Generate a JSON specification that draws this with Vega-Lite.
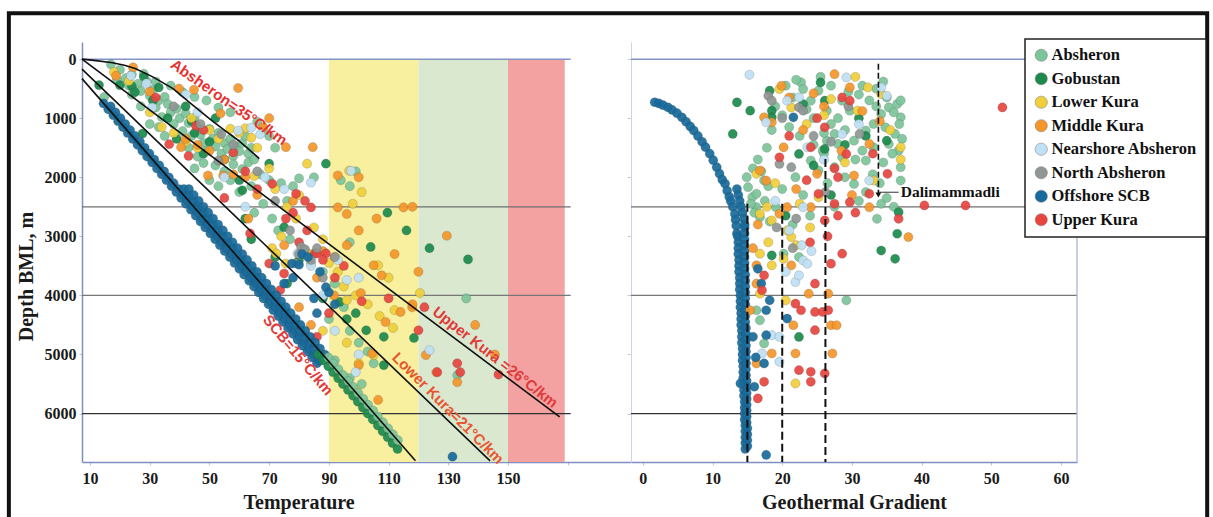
{
"$schema":"https://vega.github.io/schema/vega-lite/v6.json",
"padding":{"left":6,"top":11,"right":0,"bottom":0},
"background":"white",
"bounds":"flush",
"spacing":0,
"config":{
"view":{"stroke":null},
"axis":{"labelFont":"Liberation Serif","labelFontWeight":"bold","labelFontSize":16,"labelColor":"#1a1a1a","titleFont":"Liberation Serif","titleFontWeight":"bold","titleFontSize":20,"titleColor":"#1a1a1a","grid":false,"domainColor":"#7f8fc2","domainWidth":1.5,"tickColor":"#b9c2d8","tickSize":3,"labelPadding":4},
"legend":{"orient":"none","legendX":943,"legendY":-3,"padding":8,"strokeColor":"#222","strokeWidth":1.5,"fillColor":"white","labelFont":"Liberation Serif","labelFontWeight":"bold","labelFontSize":16.5,"labelColor":"#111","labelLimit":260,"symbolType":"circle","symbolSize":150,"symbolStrokeColor":"#777","symbolStrokeWidth":0.5,"symbolOpacity":1,"rowPadding":6.5,"labelOffset":2}
},
"datasets":{
"one":[{}],
"lines":[
{"line":"Absheron","t":7.3,"d":0},{"line":"Absheron","t":12,"d":25},{"line":"Absheron","t":17.5,"d":60},{"line":"Absheron","t":21.5,"d":105},{"line":"Absheron","t":25.1,"d":160},{"line":"Absheron","t":31,"d":300},{"line":"Absheron","t":37.8,"d":498},{"line":"Absheron","t":44,"d":760},{"line":"Absheron","t":50.7,"d":1035},{"line":"Absheron","t":55,"d":1200},{"line":"Absheron","t":59.6,"d":1373},{"line":"Absheron","t":63,"d":1520},{"line":"Absheron","t":66.7,"d":1683},
{"line":"Upper Kura","t":7.3,"d":0},{"line":"Upper Kura","t":167.3,"d":6055},
{"line":"Lower Kura","t":7.3,"d":170},{"line":"Lower Kura","t":144,"d":6800},
{"line":"SCB","t":7.3,"d":330},{"line":"SCB","t":119,"d":6800}
],
"left":[
{"r":"Absheron","t":17,"d":90},{"r":"Absheron","t":20,"d":180},{"r":"Absheron","t":22,"d":320},{"r":"Absheron","t":24,"d":260},{"r":"Absheron","t":26,"d":420},{"r":"Absheron","t":27,"d":540},{"r":"Absheron","t":29,"d":380},{"r":"Absheron","t":30,"d":620},{"r":"Absheron","t":31,"d":520},{"r":"Absheron","t":33,"d":700},{"r":"Absheron","t":32,"d":820},{"r":"Absheron","t":35,"d":640},{"r":"Absheron","t":36,"d":760},{"r":"Absheron","t":37,"d":900},{"r":"Absheron","t":34,"d":980},{"r":"Absheron","t":39,"d":840},{"r":"Absheron","t":40,"d":1000},{"r":"Absheron","t":38,"d":1100},{"r":"Absheron","t":42,"d":920},{"r":"Absheron","t":43,"d":1080},{"r":"Absheron","t":41,"d":1220},{"r":"Absheron","t":45,"d":1000},{"r":"Absheron","t":46,"d":1150},{"r":"Absheron","t":44,"d":1300},{"r":"Absheron","t":47,"d":1280},{"r":"Absheron","t":48,"d":1420},{"r":"Absheron","t":50,"d":1180},{"r":"Absheron","t":49,"d":1550},{"r":"Absheron","t":51,"d":1350},{"r":"Absheron","t":52,"d":1480},{"r":"Absheron","t":53,"d":1250},{"r":"Absheron","t":54,"d":1600},{"r":"Absheron","t":55,"d":1420},{"r":"Absheron","t":56,"d":1520},{"r":"Absheron","t":57,"d":1350},{"r":"Absheron","t":58,"d":1640},{"r":"Absheron","t":59,"d":1480},{"r":"Absheron","t":60,"d":1560},{"r":"Absheron","t":61,"d":1420},{"r":"Absheron","t":62,"d":1300},{"r":"Absheron","t":63,"d":1600},{"r":"Absheron","t":64,"d":1500},{"r":"Absheron","t":58,"d":1780},{"r":"Absheron","t":61,"d":1860},{"r":"Absheron","t":63,"d":1750},{"r":"Absheron","t":65,"d":1700},{"r":"Absheron","t":55,"d":1900},{"r":"Absheron","t":52,"d":1800},{"r":"Absheron","t":48,"d":1760},{"r":"Absheron","t":46,"d":1650},{"r":"Absheron","t":43,"d":1500},{"r":"Absheron","t":45,"d":1850},{"r":"Absheron","t":50,"d":2050},{"r":"Absheron","t":53,"d":2150},{"r":"Absheron","t":57,"d":2050},{"r":"Absheron","t":60,"d":2250},{"r":"Absheron","t":64,"d":2150},{"r":"Absheron","t":67,"d":1950},{"r":"Absheron","t":70,"d":2050},{"r":"Absheron","t":74,"d":2100},{"r":"Absheron","t":78,"d":2150},{"r":"Absheron","t":80,"d":2020},{"r":"Absheron","t":76,"d":2400},{"r":"Absheron","t":68,"d":2450},{"r":"Absheron","t":71,"d":2700},{"r":"Absheron","t":65,"d":2600},{"r":"Absheron","t":73,"d":2900},{"r":"Absheron","t":77,"d":3050},{"r":"Absheron","t":82,"d":3250},{"r":"Absheron","t":84,"d":3450},{"r":"Absheron","t":88,"d":3600},{"r":"Absheron","t":92,"d":3800},{"r":"Absheron","t":95,"d":4200},{"r":"Absheron","t":90,"d":4400},{"r":"Absheron","t":97,"d":4600},{"r":"Absheron","t":100,"d":4800},{"r":"Absheron","t":103,"d":4950},{"r":"Absheron","t":105,"d":5150},{"r":"Absheron","t":92,"d":5100},{"r":"Absheron","t":97,"d":5400},{"r":"Absheron","t":101,"d":5500},{"r":"Absheron","t":85,"d":2000},{"r":"Absheron","t":94,"d":2050},{"r":"Absheron","t":97,"d":2150},{"r":"Absheron","t":99,"d":1900},{"r":"Absheron","t":136,"d":4050},{"r":"Absheron","t":133,"d":5350},{"r":"Absheron","t":97,"d":3100},{"r":"Absheron","t":35,"d":1300},{"r":"Absheron","t":30,"d":1100},{"r":"Absheron","t":27,"d":800},{"r":"Absheron","t":24,"d":600},{"r":"Absheron","t":33,"d":1150},{"r":"Absheron","t":70,"d":1300},{"r":"Absheron","t":68,"d":1180},{"r":"Absheron","t":66,"d":1060},{"r":"Absheron","t":72,"d":1500},{"r":"Absheron","t":57,"d":900},{"r":"Absheron","t":53,"d":820},{"r":"Absheron","t":49,"d":700},{"r":"Absheron","t":45,"d":640},{"r":"Absheron","t":41,"d":560},{"r":"Absheron","t":37,"d":450},{"r":"Absheron","t":14.7,"d":644},{"r":"Absheron","t":19,"d":350},{"r":"Absheron","t":23,"d":450},{"r":"Absheron","t":28,"d":250},{"r":"Absheron","t":32,"d":380},
{"r":"Gobustan","t":13,"d":440},{"r":"Gobustan","t":20,"d":440},{"r":"Gobustan","t":24,"d":460},{"r":"Gobustan","t":25,"d":560},{"r":"Gobustan","t":28,"d":300},{"r":"Gobustan","t":27.6,"d":1260},{"r":"Gobustan","t":31,"d":700},{"r":"Gobustan","t":33,"d":480},{"r":"Gobustan","t":36,"d":1000},{"r":"Gobustan","t":39,"d":1350},{"r":"Gobustan","t":42,"d":800},{"r":"Gobustan","t":44,"d":1050},{"r":"Gobustan","t":48,"d":1600},{"r":"Gobustan","t":52,"d":1000},{"r":"Gobustan","t":55,"d":1700},{"r":"Gobustan","t":61,"d":2220},{"r":"Gobustan","t":60,"d":2050},{"r":"Gobustan","t":62,"d":2700},{"r":"Gobustan","t":64,"d":3050},{"r":"Gobustan","t":70,"d":1770},{"r":"Gobustan","t":72,"d":3350},{"r":"Gobustan","t":75,"d":2845},{"r":"Gobustan","t":80,"d":3400},{"r":"Gobustan","t":89,"d":1770},{"r":"Gobustan","t":93.6,"d":4110},{"r":"Gobustan","t":102.5,"d":4590},{"r":"Gobustan","t":108.4,"d":4700},{"r":"Gobustan","t":118.5,"d":4720},{"r":"Gobustan","t":108.4,"d":5180},{"r":"Gobustan","t":109.6,"d":2600},{"r":"Gobustan","t":116,"d":2900},{"r":"Gobustan","t":104,"d":3180},{"r":"Gobustan","t":123.7,"d":3200},{"r":"Gobustan","t":136.6,"d":3390},{"r":"Gobustan","t":76,"d":3800},{"r":"Gobustan","t":88,"d":4050},{"r":"Gobustan","t":96,"d":4400},{"r":"Gobustan","t":99,"d":4300},{"r":"Gobustan","t":45,"d":1250},{"r":"Gobustan","t":50,"d":1400},
{"r":"Lower Kura","t":18,"d":220},{"r":"Lower Kura","t":23,"d":370},{"r":"Lower Kura","t":30,"d":900},{"r":"Lower Kura","t":34,"d":1150},{"r":"Lower Kura","t":38,"d":1250},{"r":"Lower Kura","t":42,"d":1400},{"r":"Lower Kura","t":46,"d":1500},{"r":"Lower Kura","t":50,"d":1200},{"r":"Lower Kura","t":57,"d":1180},{"r":"Lower Kura","t":62,"d":1170},{"r":"Lower Kura","t":60,"d":1250},{"r":"Lower Kura","t":64,"d":1330},{"r":"Lower Kura","t":66,"d":1500},{"r":"Lower Kura","t":70,"d":1850},{"r":"Lower Kura","t":65,"d":1980},{"r":"Lower Kura","t":72,"d":2200},{"r":"Lower Kura","t":76,"d":2500},{"r":"Lower Kura","t":79,"d":2700},{"r":"Lower Kura","t":82.7,"d":1770},{"r":"Lower Kura","t":96.8,"d":1890},{"r":"Lower Kura","t":101,"d":2250},{"r":"Lower Kura","t":98,"d":2450},{"r":"Lower Kura","t":85,"d":2850},{"r":"Lower Kura","t":88,"d":3050},{"r":"Lower Kura","t":84,"d":3300},{"r":"Lower Kura","t":90,"d":3450},{"r":"Lower Kura","t":93,"d":3600},{"r":"Lower Kura","t":95,"d":3850},{"r":"Lower Kura","t":99,"d":4000},{"r":"Lower Kura","t":103,"d":4150},{"r":"Lower Kura","t":106.5,"d":3490},{"r":"Lower Kura","t":110,"d":3700},{"r":"Lower Kura","t":107,"d":4350},{"r":"Lower Kura","t":111.5,"d":4550},{"r":"Lower Kura","t":112,"d":4250},{"r":"Lower Kura","t":120.5,"d":3960},{"r":"Lower Kura","t":96,"d":4080},{"r":"Lower Kura","t":96,"d":4800},{"r":"Lower Kura","t":105,"d":5010},{"r":"Lower Kura","t":100,"d":5150},{"r":"Lower Kura","t":94,"d":5350},{"r":"Lower Kura","t":99,"d":5600},{"r":"Lower Kura","t":88,"d":4600},{"r":"Lower Kura","t":74,"d":3000},{"r":"Lower Kura","t":71,"d":3200},{"r":"Lower Kura","t":72.4,"d":3290},{"r":"Lower Kura","t":75.5,"d":3460},{"r":"Lower Kura","t":44,"d":1000},{"r":"Lower Kura","t":53,"d":1350},{"r":"Lower Kura","t":80,"d":2300},
{"r":"Middle Kura","t":18.7,"d":280},{"r":"Middle Kura","t":24.4,"d":140},{"r":"Middle Kura","t":30,"d":550},{"r":"Middle Kura","t":39.8,"d":500},{"r":"Middle Kura","t":44.8,"d":520},{"r":"Middle Kura","t":59.6,"d":490},{"r":"Middle Kura","t":53.7,"d":920},{"r":"Middle Kura","t":70,"d":1000},{"r":"Middle Kura","t":68,"d":1150},{"r":"Middle Kura","t":42,"d":1350},{"r":"Middle Kura","t":40.5,"d":1490},{"r":"Middle Kura","t":46,"d":1450},{"r":"Middle Kura","t":50,"d":1550},{"r":"Middle Kura","t":49.5,"d":1970},{"r":"Middle Kura","t":54.6,"d":1970},{"r":"Middle Kura","t":55,"d":1700},{"r":"Middle Kura","t":58,"d":1950},{"r":"Middle Kura","t":62,"d":2000},{"r":"Middle Kura","t":75.6,"d":1490},{"r":"Middle Kura","t":84.6,"d":1490},{"r":"Middle Kura","t":93,"d":1970},{"r":"Middle Kura","t":100,"d":2000},{"r":"Middle Kura","t":93,"d":2510},{"r":"Middle Kura","t":96,"d":2620},{"r":"Middle Kura","t":115,"d":2510},{"r":"Middle Kura","t":118,"d":2500},{"r":"Middle Kura","t":129.5,"d":2990},{"r":"Middle Kura","t":106,"d":2700},{"r":"Middle Kura","t":100,"d":2900},{"r":"Middle Kura","t":91.7,"d":4000},{"r":"Middle Kura","t":105,"d":3490},{"r":"Middle Kura","t":107.7,"d":3660},{"r":"Middle Kura","t":117.9,"d":4200},{"r":"Middle Kura","t":114,"d":4280},{"r":"Middle Kura","t":109,"d":4450},{"r":"Middle Kura","t":100.7,"d":3960},{"r":"Middle Kura","t":122.5,"d":5010},{"r":"Middle Kura","t":106.5,"d":5770},{"r":"Middle Kura","t":126,"d":5300},{"r":"Middle Kura","t":133,"d":5470},{"r":"Middle Kura","t":145.6,"d":5000},{"r":"Middle Kura","t":139,"d":4500},{"r":"Middle Kura","t":100,"d":5180},{"r":"Middle Kura","t":104.5,"d":4980},{"r":"Middle Kura","t":88,"d":3250},{"r":"Middle Kura","t":92,"d":3350},{"r":"Middle Kura","t":96,"d":3150},{"r":"Middle Kura","t":86,"d":3700},{"r":"Middle Kura","t":78,"d":2400},{"r":"Middle Kura","t":75,"d":3150},{"r":"Middle Kura","t":66,"d":2300},{"r":"Middle Kura","t":63,"d":2700},{"r":"Middle Kura","t":80,"d":4200},{"r":"Middle Kura","t":84,"d":4500},{"r":"Middle Kura","t":118,"d":4150},{"r":"Middle Kura","t":120,"d":3600},{"r":"Middle Kura","t":112,"d":3300},
{"r":"Upper Kura","t":32,"d":650},{"r":"Upper Kura","t":45.5,"d":1130},{"r":"Upper Kura","t":43,"d":1640},{"r":"Upper Kura","t":36.5,"d":1440},{"r":"Upper Kura","t":58,"d":1580},{"r":"Upper Kura","t":48,"d":1200},{"r":"Upper Kura","t":62,"d":1900},{"r":"Upper Kura","t":66,"d":2200},{"r":"Upper Kura","t":55,"d":2350},{"r":"Upper Kura","t":71,"d":2110},{"r":"Upper Kura","t":79,"d":2280},{"r":"Upper Kura","t":84,"d":2510},{"r":"Upper Kura","t":75.6,"d":2700},{"r":"Upper Kura","t":82.7,"d":2900},{"r":"Upper Kura","t":85.3,"d":3290},{"r":"Upper Kura","t":63.6,"d":2950},{"r":"Upper Kura","t":73.7,"d":3910},{"r":"Upper Kura","t":75,"d":3630},{"r":"Upper Kura","t":70,"d":3460},{"r":"Upper Kura","t":86,"d":3290},{"r":"Upper Kura","t":89,"d":3290},{"r":"Upper Kura","t":92,"d":3700},{"r":"Upper Kura","t":88,"d":3400},{"r":"Upper Kura","t":80,"d":3100},{"r":"Upper Kura","t":95,"d":3500},{"r":"Upper Kura","t":78,"d":2600},{"r":"Upper Kura","t":82,"d":2400},{"r":"Upper Kura","t":101,"d":4100},{"r":"Upper Kura","t":90,"d":4300},{"r":"Upper Kura","t":86,"d":4700},{"r":"Upper Kura","t":110,"d":4050},{"r":"Upper Kura","t":120,"d":4590},{"r":"Upper Kura","t":122,"d":4200},{"r":"Upper Kura","t":126.3,"d":5300},{"r":"Upper Kura","t":134,"d":5300},{"r":"Upper Kura","t":133,"d":5150},{"r":"Upper Kura","t":146.8,"d":5340},
{"r":"Nearshore Absheron","t":23.7,"d":283},{"r":"Nearshore Absheron","t":28.9,"d":410},{"r":"Nearshore Absheron","t":30.8,"d":820},{"r":"Nearshore Absheron","t":42,"d":600},{"r":"Nearshore Absheron","t":46,"d":900},{"r":"Nearshore Absheron","t":59.6,"d":1210},{"r":"Nearshore Absheron","t":64,"d":1160},{"r":"Nearshore Absheron","t":67,"d":1270},{"r":"Nearshore Absheron","t":55,"d":2000},{"r":"Nearshore Absheron","t":68.6,"d":2000},{"r":"Nearshore Absheron","t":84,"d":2090},{"r":"Nearshore Absheron","t":97.4,"d":1890},{"r":"Nearshore Absheron","t":75,"d":2200},{"r":"Nearshore Absheron","t":62,"d":2500},{"r":"Nearshore Absheron","t":79.5,"d":3290},{"r":"Nearshore Absheron","t":84,"d":3500},{"r":"Nearshore Absheron","t":93,"d":3400},{"r":"Nearshore Absheron","t":100,"d":3700},{"r":"Nearshore Absheron","t":96,"d":3740},{"r":"Nearshore Absheron","t":88,"d":4000},{"r":"Nearshore Absheron","t":92,"d":4600},{"r":"Nearshore Absheron","t":100,"d":5000},{"r":"Nearshore Absheron","t":99,"d":5300},{"r":"Nearshore Absheron","t":123.7,"d":4930},
{"r":"North Absheron","t":38,"d":800},{"r":"North Absheron","t":47,"d":1100},{"r":"North Absheron","t":54,"d":1270},{"r":"North Absheron","t":58,"d":1450},{"r":"North Absheron","t":53,"d":1720},{"r":"North Absheron","t":66,"d":1900},{"r":"North Absheron","t":72,"d":2400},{"r":"North Absheron","t":77,"d":2900},{"r":"North Absheron","t":80.7,"d":3180},{"r":"North Absheron","t":82,"d":3220},{"r":"North Absheron","t":86,"d":3200},{"r":"North Absheron","t":80,"d":3300},{"r":"North Absheron","t":79,"d":3460},{"r":"North Absheron","t":84,"d":3400},{"r":"North Absheron","t":88,"d":3700},{"r":"North Absheron","t":92,"d":3350},
{"r":"Offshore SCB","t":77.6,"d":3460},{"r":"Offshore SCB","t":80,"d":3480},{"r":"Offshore SCB","t":81,"d":3300},{"r":"Offshore SCB","t":83,"d":3350},{"r":"Offshore SCB","t":89,"d":3860},{"r":"Offshore SCB","t":90,"d":3950},{"r":"Offshore SCB","t":78,"d":3700},{"r":"Offshore SCB","t":75,"d":3800},{"r":"Offshore SCB","t":85,"d":4050},{"r":"Offshore SCB","t":87,"d":3600},{"r":"Offshore SCB","t":72,"d":3500},{"r":"Offshore SCB","t":131.4,"d":6730},{"r":"Offshore SCB","t":86,"d":4300},{"r":"Offshore SCB","t":92,"d":4150},
{"r":"Offshore SCB","t":14.5,"d":750},{"r":"Offshore SCB","t":16.1,"d":850},{"r":"Offshore SCB","t":17.8,"d":950},{"r":"Offshore SCB","t":19.4,"d":1050},{"r":"Offshore SCB","t":21.0,"d":1150},{"r":"Offshore SCB","t":22.6,"d":1250},{"r":"Offshore SCB","t":24.3,"d":1350},{"r":"Offshore SCB","t":25.9,"d":1450},{"r":"Offshore SCB","t":27.5,"d":1550},{"r":"Offshore SCB","t":29.1,"d":1650},{"r":"Offshore SCB","t":30.8,"d":1750},{"r":"Offshore SCB","t":32.4,"d":1850},{"r":"Offshore SCB","t":34.0,"d":1950},{"r":"Offshore SCB","t":35.6,"d":2050},{"r":"Offshore SCB","t":37.3,"d":2150},{"r":"Offshore SCB","t":38.9,"d":2250},{"r":"Offshore SCB","t":40.5,"d":2350},{"r":"Offshore SCB","t":42.1,"d":2450},{"r":"Offshore SCB","t":43.8,"d":2550},{"r":"Offshore SCB","t":45.4,"d":2650},{"r":"Offshore SCB","t":47.0,"d":2750},{"r":"Offshore SCB","t":48.6,"d":2850},{"r":"Offshore SCB","t":50.3,"d":2950},{"r":"Offshore SCB","t":51.9,"d":3050},{"r":"Offshore SCB","t":53.5,"d":3150},{"r":"Offshore SCB","t":55.1,"d":3250},{"r":"Offshore SCB","t":56.8,"d":3350},{"r":"Offshore SCB","t":58.4,"d":3450},{"r":"Offshore SCB","t":60.0,"d":3550},{"r":"Offshore SCB","t":61.6,"d":3650},{"r":"Offshore SCB","t":63.3,"d":3750},{"r":"Offshore SCB","t":64.9,"d":3850},{"r":"Offshore SCB","t":66.5,"d":3950},{"r":"Offshore SCB","t":68.1,"d":4050},{"r":"Offshore SCB","t":69.8,"d":4150},{"r":"Offshore SCB","t":71.4,"d":4250},{"r":"Offshore SCB","t":73.0,"d":4350},{"r":"Offshore SCB","t":74.6,"d":4450},{"r":"Offshore SCB","t":76.3,"d":4550},{"r":"Offshore SCB","t":77.9,"d":4650},{"r":"Offshore SCB","t":79.5,"d":4750},{"r":"Offshore SCB","t":81.1,"d":4850},{"r":"Offshore SCB","t":82.8,"d":4950},{"r":"Offshore SCB","t":84.4,"d":5050},{"r":"Offshore SCB","t":86.0,"d":5150},
{"r":"Offshore SCB","t":16.9,"d":800},{"r":"Offshore SCB","t":18.5,"d":900},{"r":"Offshore SCB","t":20.2,"d":1000},{"r":"Offshore SCB","t":21.8,"d":1100},{"r":"Offshore SCB","t":23.4,"d":1200},{"r":"Offshore SCB","t":25.0,"d":1300},{"r":"Offshore SCB","t":26.7,"d":1400},{"r":"Offshore SCB","t":28.3,"d":1500},{"r":"Offshore SCB","t":29.9,"d":1600},{"r":"Offshore SCB","t":31.5,"d":1700},{"r":"Offshore SCB","t":33.2,"d":1800},{"r":"Offshore SCB","t":34.8,"d":1900},{"r":"Offshore SCB","t":36.4,"d":2000},{"r":"Offshore SCB","t":38.0,"d":2100},{"r":"Offshore SCB","t":39.7,"d":2200},{"r":"Offshore SCB","t":41.3,"d":2300},{"r":"Offshore SCB","t":42.9,"d":2400},{"r":"Offshore SCB","t":44.5,"d":2500},{"r":"Offshore SCB","t":46.2,"d":2600},{"r":"Offshore SCB","t":47.8,"d":2700},{"r":"Offshore SCB","t":49.4,"d":2800},{"r":"Offshore SCB","t":51.0,"d":2900},{"r":"Offshore SCB","t":52.7,"d":3000},{"r":"Offshore SCB","t":54.3,"d":3100},{"r":"Offshore SCB","t":55.9,"d":3200},{"r":"Offshore SCB","t":57.5,"d":3300},{"r":"Offshore SCB","t":59.2,"d":3400},{"r":"Offshore SCB","t":60.8,"d":3500},{"r":"Offshore SCB","t":62.4,"d":3600},{"r":"Offshore SCB","t":64.0,"d":3700},{"r":"Offshore SCB","t":65.7,"d":3800},{"r":"Offshore SCB","t":67.3,"d":3900},{"r":"Offshore SCB","t":68.9,"d":4000},{"r":"Offshore SCB","t":70.5,"d":4100},{"r":"Offshore SCB","t":72.2,"d":4200},{"r":"Offshore SCB","t":73.8,"d":4300},{"r":"Offshore SCB","t":75.4,"d":4400},{"r":"Offshore SCB","t":77.0,"d":4500},{"r":"Offshore SCB","t":78.7,"d":4600},{"r":"Offshore SCB","t":80.3,"d":4700},{"r":"Offshore SCB","t":81.9,"d":4800},{"r":"Offshore SCB","t":83.5,"d":4900},{"r":"Offshore SCB","t":85.2,"d":5000},{"r":"Offshore SCB","t":86.8,"d":5100},
{"r":"Offshore SCB","t":41.4,"d":2200},{"r":"Offshore SCB","t":43.0,"d":2300},{"r":"Offshore SCB","t":44.7,"d":2400},{"r":"Offshore SCB","t":46.3,"d":2500},{"r":"Offshore SCB","t":47.9,"d":2600},{"r":"Offshore SCB","t":49.5,"d":2700},{"r":"Offshore SCB","t":51.2,"d":2800},{"r":"Offshore SCB","t":52.8,"d":2900},{"r":"Offshore SCB","t":54.4,"d":3000},{"r":"Offshore SCB","t":56.0,"d":3100},{"r":"Offshore SCB","t":57.7,"d":3200},{"r":"Offshore SCB","t":59.3,"d":3300},{"r":"Offshore SCB","t":60.9,"d":3400},{"r":"Offshore SCB","t":62.5,"d":3500},{"r":"Offshore SCB","t":64.2,"d":3600},{"r":"Offshore SCB","t":65.8,"d":3700},{"r":"Offshore SCB","t":67.4,"d":3800},{"r":"Offshore SCB","t":69.0,"d":3900},{"r":"Offshore SCB","t":70.7,"d":4000},{"r":"Offshore SCB","t":72.3,"d":4100},{"r":"Offshore SCB","t":73.9,"d":4200},{"r":"Offshore SCB","t":75.5,"d":4300},{"r":"Offshore SCB","t":77.2,"d":4400},{"r":"Offshore SCB","t":78.8,"d":4500},{"r":"Offshore SCB","t":80.4,"d":4600},{"r":"Offshore SCB","t":82.0,"d":4700},{"r":"Offshore SCB","t":83.7,"d":4800},{"r":"Offshore SCB","t":85.3,"d":4900},
{"r":"Offshore SCB","t":43.1,"d":2200},{"r":"Offshore SCB","t":44.7,"d":2300},{"r":"Offshore SCB","t":46.4,"d":2400},{"r":"Offshore SCB","t":48.0,"d":2500},{"r":"Offshore SCB","t":49.6,"d":2600},{"r":"Offshore SCB","t":51.2,"d":2700},{"r":"Offshore SCB","t":52.9,"d":2800},{"r":"Offshore SCB","t":54.5,"d":2900},{"r":"Offshore SCB","t":56.1,"d":3000},{"r":"Offshore SCB","t":57.7,"d":3100},{"r":"Offshore SCB","t":59.4,"d":3200},{"r":"Offshore SCB","t":61.0,"d":3300},{"r":"Offshore SCB","t":62.6,"d":3400},{"r":"Offshore SCB","t":64.2,"d":3500},{"r":"Offshore SCB","t":65.9,"d":3600},{"r":"Offshore SCB","t":67.5,"d":3700},{"r":"Offshore SCB","t":69.1,"d":3800},{"r":"Offshore SCB","t":70.7,"d":3900},{"r":"Offshore SCB","t":72.4,"d":4000},{"r":"Offshore SCB","t":74.0,"d":4100},{"r":"Offshore SCB","t":75.6,"d":4200},{"r":"Offshore SCB","t":77.2,"d":4300},{"r":"Offshore SCB","t":78.9,"d":4400},{"r":"Offshore SCB","t":80.5,"d":4500},{"r":"Offshore SCB","t":82.1,"d":4600},{"r":"Offshore SCB","t":83.7,"d":4700},{"r":"Offshore SCB","t":85.4,"d":4800},{"r":"Offshore SCB","t":87.0,"d":4900},{"r":"Offshore SCB","t":88.6,"d":5000},
{"r":"Gobustan","t":86.4,"d":5000},{"r":"Gobustan","t":88.1,"d":5100},{"r":"Gobustan","t":89.8,"d":5200},{"r":"Gobustan","t":91.4,"d":5300},{"r":"Gobustan","t":93.1,"d":5400},{"r":"Gobustan","t":94.7,"d":5500},{"r":"Gobustan","t":96.4,"d":5600},{"r":"Gobustan","t":98.1,"d":5700},{"r":"Gobustan","t":99.7,"d":5800},{"r":"Gobustan","t":101.4,"d":5900},{"r":"Gobustan","t":103.0,"d":6000},{"r":"Gobustan","t":104.7,"d":6100},{"r":"Gobustan","t":106.4,"d":6200},{"r":"Gobustan","t":108.0,"d":6300},{"r":"Gobustan","t":109.7,"d":6400},{"r":"Gobustan","t":111.3,"d":6500},{"r":"Gobustan","t":113.0,"d":6600},
{"r":"Absheron","t":89.8,"d":5050},{"r":"Absheron","t":91.5,"d":5150},{"r":"Absheron","t":93.2,"d":5250},{"r":"Absheron","t":94.8,"d":5350},{"r":"Absheron","t":96.5,"d":5450},{"r":"Absheron","t":98.1,"d":5550},{"r":"Absheron","t":99.8,"d":5650},{"r":"Absheron","t":101.5,"d":5750},{"r":"Absheron","t":103.1,"d":5850},{"r":"Absheron","t":104.8,"d":5950},{"r":"Absheron","t":106.4,"d":6050},{"r":"Absheron","t":108.1,"d":6150},{"r":"Absheron","t":109.8,"d":6250},{"r":"Absheron","t":111.4,"d":6350},{"r":"Absheron","t":113.1,"d":6450}
],
"right":[
{"r":"Offshore SCB","g":1.7,"d":730},{"r":"Offshore SCB","g":2.3,"d":750},{"r":"Offshore SCB","g":2.9,"d":780},{"r":"Offshore SCB","g":3.6,"d":815},{"r":"Offshore SCB","g":4.2,"d":860},{"r":"Offshore SCB","g":4.9,"d":915},{"r":"Offshore SCB","g":5.6,"d":985},{"r":"Offshore SCB","g":6.2,"d":1060},{"r":"Offshore SCB","g":6.8,"d":1140},{"r":"Offshore SCB","g":7.3,"d":1210},{"r":"Offshore SCB","g":7.9,"d":1300},{"r":"Offshore SCB","g":8.5,"d":1400},{"r":"Offshore SCB","g":9.0,"d":1490},{"r":"Offshore SCB","g":9.6,"d":1600},{"r":"Offshore SCB","g":10.1,"d":1710},{"r":"Offshore SCB","g":10.6,"d":1830},{"r":"Offshore SCB","g":11.0,"d":1940},{"r":"Offshore SCB","g":11.4,"d":2040},{"r":"Offshore SCB","g":11.8,"d":2110},{"r":"Offshore SCB","g":12.1,"d":2230},{"r":"Offshore SCB","g":12.4,"d":2330},{"r":"Offshore SCB","g":12.6,"d":2400},{"r":"Offshore SCB","g":12.9,"d":2500},{"r":"Offshore SCB","g":13.2,"d":2620},{"r":"Offshore SCB","g":13.3,"d":2720},{"r":"Offshore SCB","g":13.4,"d":2820},{"r":"Offshore SCB","g":13.5,"d":2950},
{"r":"Offshore SCB","g":13.5,"d":2200},{"r":"Offshore SCB","g":13.7,"d":2300},{"r":"Offshore SCB","g":13.9,"d":2400},{"r":"Offshore SCB","g":14.1,"d":2500},{"r":"Offshore SCB","g":14.3,"d":2600},{"r":"Offshore SCB","g":14.5,"d":2700},{"r":"Offshore SCB","g":14.6,"d":2800},
{"r":"Offshore SCB","g":13.6,"d":3000},{"r":"Offshore SCB","g":13.7,"d":3100},{"r":"Offshore SCB","g":13.7,"d":3200},{"r":"Offshore SCB","g":13.7,"d":3300},{"r":"Offshore SCB","g":13.8,"d":3400},{"r":"Offshore SCB","g":13.8,"d":3500},{"r":"Offshore SCB","g":13.8,"d":3600},{"r":"Offshore SCB","g":13.9,"d":3700},{"r":"Offshore SCB","g":13.9,"d":3800},{"r":"Offshore SCB","g":13.9,"d":3900},{"r":"Offshore SCB","g":14.0,"d":4000},{"r":"Offshore SCB","g":14.0,"d":4100},{"r":"Offshore SCB","g":14.0,"d":4200},{"r":"Offshore SCB","g":14.1,"d":4300},{"r":"Offshore SCB","g":14.1,"d":4400},{"r":"Offshore SCB","g":14.1,"d":4500},{"r":"Offshore SCB","g":14.2,"d":4600},{"r":"Offshore SCB","g":14.2,"d":4700},{"r":"Offshore SCB","g":14.2,"d":4800},{"r":"Offshore SCB","g":14.3,"d":4900},{"r":"Offshore SCB","g":14.3,"d":5000},{"r":"Offshore SCB","g":14.3,"d":5100},{"r":"Offshore SCB","g":14.4,"d":5200},{"r":"Offshore SCB","g":14.4,"d":5300},{"r":"Offshore SCB","g":14.4,"d":5400},{"r":"Offshore SCB","g":14.5,"d":5500},{"r":"Offshore SCB","g":14.5,"d":5600},{"r":"Offshore SCB","g":14.5,"d":5700},{"r":"Offshore SCB","g":14.6,"d":5800},{"r":"Offshore SCB","g":14.6,"d":5900},{"r":"Offshore SCB","g":14.6,"d":6000},{"r":"Offshore SCB","g":14.6,"d":6100},{"r":"Offshore SCB","g":14.7,"d":6200},{"r":"Offshore SCB","g":14.7,"d":6300},{"r":"Offshore SCB","g":14.7,"d":6400},{"r":"Offshore SCB","g":14.7,"d":6500},{"r":"Offshore SCB","g":14.7,"d":6600},
{"r":"Offshore SCB","g":14.6,"d":2850},{"r":"Offshore SCB","g":14.6,"d":2950},{"r":"Offshore SCB","g":14.6,"d":3050},{"r":"Offshore SCB","g":14.6,"d":3150},{"r":"Offshore SCB","g":14.6,"d":3250},{"r":"Offshore SCB","g":14.6,"d":3350},{"r":"Offshore SCB","g":14.6,"d":3450},{"r":"Offshore SCB","g":14.6,"d":3550},{"r":"Offshore SCB","g":14.7,"d":3650},{"r":"Offshore SCB","g":14.7,"d":3750},{"r":"Offshore SCB","g":14.7,"d":3850},{"r":"Offshore SCB","g":14.7,"d":3950},{"r":"Offshore SCB","g":14.7,"d":4050},{"r":"Offshore SCB","g":14.7,"d":4150},{"r":"Offshore SCB","g":14.7,"d":4250},{"r":"Offshore SCB","g":14.7,"d":4350},{"r":"Offshore SCB","g":14.7,"d":4450},{"r":"Offshore SCB","g":14.8,"d":4550},{"r":"Offshore SCB","g":14.8,"d":4650},{"r":"Offshore SCB","g":14.8,"d":4750},{"r":"Offshore SCB","g":14.8,"d":4850},{"r":"Offshore SCB","g":14.8,"d":4950},{"r":"Offshore SCB","g":14.8,"d":5050},{"r":"Offshore SCB","g":14.8,"d":5150},{"r":"Offshore SCB","g":14.8,"d":5250},{"r":"Offshore SCB","g":14.8,"d":5350},{"r":"Offshore SCB","g":14.9,"d":5450},{"r":"Offshore SCB","g":14.9,"d":5550},{"r":"Offshore SCB","g":14.9,"d":5650},{"r":"Offshore SCB","g":14.9,"d":5750},{"r":"Offshore SCB","g":14.9,"d":5850},{"r":"Offshore SCB","g":14.9,"d":5950},{"r":"Offshore SCB","g":14.9,"d":6050},{"r":"Offshore SCB","g":14.9,"d":6150},{"r":"Offshore SCB","g":15.0,"d":6250},{"r":"Offshore SCB","g":15.0,"d":6350},{"r":"Offshore SCB","g":15.0,"d":6450},{"r":"Offshore SCB","g":15.0,"d":6550},
{"r":"Absheron","g":22.7,"d":394},{"r":"Absheron","g":23,"d":507},{"r":"Absheron","g":25.2,"d":535},{"r":"Absheron","g":24.1,"d":704},{"r":"Absheron","g":26.4,"d":873},{"r":"Absheron","g":28.6,"d":704},{"r":"Absheron","g":29.7,"d":873},{"r":"Absheron","g":27.5,"d":1267},{"r":"Absheron","g":26.4,"d":1380},{"r":"Absheron","g":25.8,"d":1549},{"r":"Absheron","g":28,"d":1436},{"r":"Absheron","g":30.3,"d":1380},{"r":"Absheron","g":32,"d":1211},{"r":"Absheron","g":33.1,"d":1098},{"r":"Absheron","g":34.2,"d":929},{"r":"Absheron","g":35.3,"d":817},{"r":"Absheron","g":36.5,"d":760},{"r":"Absheron","g":37,"d":985},{"r":"Absheron","g":36.2,"d":1267},{"r":"Absheron","g":36.7,"d":1549},{"r":"Absheron","g":35.3,"d":1436},{"r":"Absheron","g":34.8,"d":1154},{"r":"Absheron","g":33.1,"d":1492},{"r":"Absheron","g":32,"d":1717},{"r":"Absheron","g":28.6,"d":1661},{"r":"Absheron","g":27.5,"d":1830},{"r":"Absheron","g":25.2,"d":1886},{"r":"Absheron","g":24.1,"d":1717},{"r":"Absheron","g":14.9,"d":1999},{"r":"Absheron","g":15.1,"d":2168},{"r":"Absheron","g":15.7,"d":2337},{"r":"Absheron","g":16.3,"d":2506},{"r":"Absheron","g":16.8,"d":2675},{"r":"Absheron","g":17.4,"d":2055},{"r":"Absheron","g":16.3,"d":2280},{"r":"Absheron","g":21.9,"d":1999},{"r":"Absheron","g":30.3,"d":2112},{"r":"Absheron","g":37,"d":2055},{"r":"Absheron","g":37,"d":1830},{"r":"Absheron","g":33.6,"d":2703},{"r":"Absheron","g":34.2,"d":2449},{"r":"Absheron","g":19.1,"d":2506},{"r":"Absheron","g":31,"d":600},{"r":"Absheron","g":32.5,"d":700},{"r":"Absheron","g":33.5,"d":800},{"r":"Absheron","g":35,"d":650},{"r":"Absheron","g":36,"d":900},{"r":"Absheron","g":37,"d":700},{"r":"Absheron","g":36.8,"d":1100},{"r":"Absheron","g":37.2,"d":1350},{"r":"Absheron","g":35.8,"d":1600},{"r":"Absheron","g":34.5,"d":1750},{"r":"Absheron","g":33,"d":1950},{"r":"Absheron","g":31.5,"d":1550},{"r":"Absheron","g":30.5,"d":1700},{"r":"Absheron","g":29,"d":1200},{"r":"Absheron","g":28,"d":1000},{"r":"Absheron","g":27,"d":1100},{"r":"Absheron","g":26,"d":1250},{"r":"Absheron","g":24.5,"d":1000},{"r":"Absheron","g":23.5,"d":850},{"r":"Absheron","g":21.5,"d":650},{"r":"Absheron","g":20.5,"d":450},{"r":"Absheron","g":22,"d":350},{"r":"Absheron","g":25.5,"d":300},{"r":"Absheron","g":27,"d":450},{"r":"Absheron","g":29.5,"d":550},{"r":"Absheron","g":31.5,"d":450},{"r":"Absheron","g":33.5,"d":500},{"r":"Absheron","g":34.5,"d":380},{"r":"Absheron","g":26,"d":1600},{"r":"Absheron","g":24.5,"d":1450},{"r":"Absheron","g":22.5,"d":1300},{"r":"Absheron","g":21,"d":1150},{"r":"Absheron","g":20,"d":950},{"r":"Absheron","g":19,"d":800},{"r":"Absheron","g":18.5,"d":1200},{"r":"Absheron","g":17.8,"d":1500},{"r":"Absheron","g":16.5,"d":1700},{"r":"Absheron","g":15.8,"d":1850},{"r":"Absheron","g":17,"d":1900},{"r":"Absheron","g":18,"d":2150},{"r":"Absheron","g":17.5,"d":2400},{"r":"Absheron","g":16,"d":2600},{"r":"Absheron","g":18.2,"d":2750},{"r":"Absheron","g":15.5,"d":2450},{"r":"Absheron","g":20,"d":2200},{"r":"Absheron","g":23,"d":2300},{"r":"Absheron","g":26.5,"d":2100},{"r":"Absheron","g":29,"d":2000},{"r":"Absheron","g":32,"d":2250},{"r":"Absheron","g":35,"d":2350},{"r":"Absheron","g":36,"d":2500},{"r":"Absheron","g":34,"d":2100},{"r":"Absheron","g":31,"d":2400},{"r":"Absheron","g":27.5,"d":2500},{"r":"Absheron","g":24,"d":2650},{"r":"Absheron","g":21.5,"d":2800},{"r":"Absheron","g":29.2,"d":4083},{"r":"Absheron","g":22.4,"d":3350},{"r":"Absheron","g":16.3,"d":4251},{"r":"Absheron","g":16.8,"d":4420},{"r":"Absheron","g":17.4,"d":4814},{"r":"Absheron","g":20.2,"d":3294},
{"r":"Gobustan","g":13.5,"d":732},{"r":"Gobustan","g":15.4,"d":873},{"r":"Gobustan","g":12.9,"d":1267},{"r":"Gobustan","g":18.5,"d":873},{"r":"Gobustan","g":18.5,"d":985},{"r":"Gobustan","g":18.2,"d":535},{"r":"Gobustan","g":23,"d":760},{"r":"Gobustan","g":25.5,"d":394},{"r":"Gobustan","g":26.1,"d":704},{"r":"Gobustan","g":22.4,"d":1605},{"r":"Gobustan","g":26.1,"d":1520},{"r":"Gobustan","g":35,"d":1380},{"r":"Gobustan","g":36.7,"d":2590},{"r":"Gobustan","g":36.5,"d":2956},{"r":"Gobustan","g":36.2,"d":3380},{"r":"Gobustan","g":34.2,"d":3240},{"r":"Gobustan","g":22.4,"d":4702},{"r":"Gobustan","g":18.5,"d":3322},{"r":"Gobustan","g":24.5,"d":1800},{"r":"Gobustan","g":27,"d":2300},{"r":"Gobustan","g":20.5,"d":2650},{"r":"Gobustan","g":29,"d":1450},{"r":"Gobustan","g":31,"d":1000},{"r":"Gobustan","g":32,"d":1300},
{"r":"Lower Kura","g":19.6,"d":507},{"r":"Lower Kura","g":21.3,"d":817},{"r":"Lower Kura","g":27,"d":676},{"r":"Lower Kura","g":34.2,"d":591},{"r":"Lower Kura","g":32.3,"d":479},{"r":"Lower Kura","g":30.8,"d":873},{"r":"Lower Kura","g":16.3,"d":1942},{"r":"Lower Kura","g":16.8,"d":2618},{"r":"Lower Kura","g":18.5,"d":2731},{"r":"Lower Kura","g":20.7,"d":2900},{"r":"Lower Kura","g":21.3,"d":3012},{"r":"Lower Kura","g":25.2,"d":2337},{"r":"Lower Kura","g":33.1,"d":2055},{"r":"Lower Kura","g":37,"d":1492},{"r":"Lower Kura","g":16.8,"d":3294},{"r":"Lower Kura","g":20.2,"d":3379},{"r":"Lower Kura","g":18.5,"d":3491},{"r":"Lower Kura","g":16.8,"d":3970},{"r":"Lower Kura","g":20.5,"d":4083},{"r":"Lower Kura","g":21.9,"d":5490},{"r":"Lower Kura","g":23.5,"d":1100},{"r":"Lower Kura","g":26,"d":950},{"r":"Lower Kura","g":29,"d":1750},{"r":"Lower Kura","g":19,"d":2100},{"r":"Lower Kura","g":22.5,"d":2450},{"r":"Lower Kura","g":24,"d":2850},{"r":"Lower Kura","g":18,"d":3100},{"r":"Lower Kura","g":22,"d":3150},{"r":"Lower Kura","g":17.8,"d":2500},{"r":"Lower Kura","g":30.5,"d":300},{"r":"Lower Kura","g":35.5,"d":1200},{"r":"Lower Kura","g":37,"d":1700},
{"r":"Middle Kura","g":27.5,"d":254},{"r":"Middle Kura","g":29.7,"d":479},{"r":"Middle Kura","g":19.9,"d":451},{"r":"Middle Kura","g":17.4,"d":985},{"r":"Middle Kura","g":18.5,"d":1070},{"r":"Middle Kura","g":20.2,"d":1492},{"r":"Middle Kura","g":25,"d":1942},{"r":"Middle Kura","g":30.3,"d":1971},{"r":"Middle Kura","g":32.5,"d":1436},{"r":"Middle Kura","g":32.5,"d":2506},{"r":"Middle Kura","g":38.1,"d":3012},{"r":"Middle Kura","g":24.1,"d":2506},{"r":"Middle Kura","g":16.8,"d":1886},{"r":"Middle Kura","g":17.7,"d":2055},{"r":"Middle Kura","g":19.6,"d":2618},{"r":"Middle Kura","g":20.7,"d":2506},{"r":"Middle Kura","g":16.3,"d":3491},{"r":"Middle Kura","g":21.3,"d":3491},{"r":"Middle Kura","g":16.3,"d":3801},{"r":"Middle Kura","g":18.5,"d":4983},{"r":"Middle Kura","g":21.9,"d":4983},{"r":"Middle Kura","g":27.2,"d":4983},{"r":"Middle Kura","g":23.8,"d":3970},{"r":"Middle Kura","g":26.6,"d":3970},{"r":"Middle Kura","g":27,"d":4505},{"r":"Middle Kura","g":27.8,"d":4505},{"r":"Middle Kura","g":21.6,"d":4505},{"r":"Middle Kura","g":15.4,"d":4251},{"r":"Middle Kura","g":16.3,"d":5152},{"r":"Middle Kura","g":23,"d":1200},{"r":"Middle Kura","g":26,"d":800},{"r":"Middle Kura","g":28.5,"d":1550},{"r":"Middle Kura","g":22,"d":2200},{"r":"Middle Kura","g":30,"d":2300},{"r":"Middle Kura","g":34,"d":1050},{"r":"Middle Kura","g":16.5,"d":2800},{"r":"Middle Kura","g":15.8,"d":3200},{"r":"Middle Kura","g":21,"d":650},{"r":"Middle Kura","g":24.5,"d":580},{"r":"Middle Kura","g":31.5,"d":880},
{"r":"Nearshore Absheron","g":15.3,"d":265},{"r":"Nearshore Absheron","g":17.7,"d":1070},{"r":"Nearshore Absheron","g":20.7,"d":704},{"r":"Nearshore Absheron","g":22.4,"d":648},{"r":"Nearshore Absheron","g":29.2,"d":310},{"r":"Nearshore Absheron","g":34.2,"d":479},{"r":"Nearshore Absheron","g":35,"d":620},{"r":"Nearshore Absheron","g":23.6,"d":1492},{"r":"Nearshore Absheron","g":28.6,"d":1267},{"r":"Nearshore Absheron","g":32.5,"d":2055},{"r":"Nearshore Absheron","g":23,"d":2506},{"r":"Nearshore Absheron","g":23,"d":3407},{"r":"Nearshore Absheron","g":23.6,"d":3463},{"r":"Nearshore Absheron","g":21.9,"d":3773},{"r":"Nearshore Absheron","g":18.5,"d":4674},{"r":"Nearshore Absheron","g":19.6,"d":4702},{"r":"Nearshore Absheron","g":19.6,"d":5124},{"r":"Nearshore Absheron","g":17.1,"d":4983},{"r":"Nearshore Absheron","g":22.4,"d":3660},{"r":"Nearshore Absheron","g":21,"d":2900},{"r":"Nearshore Absheron","g":22.8,"d":3150},{"r":"Nearshore Absheron","g":24.2,"d":3250},{"r":"Nearshore Absheron","g":20.5,"d":3600},{"r":"Nearshore Absheron","g":19,"d":2400},{"r":"Nearshore Absheron","g":26,"d":1700},{"r":"Nearshore Absheron","g":31,"d":1100},
{"r":"North Absheron","g":18,"d":620},{"r":"North Absheron","g":18.5,"d":704},{"r":"North Absheron","g":22.4,"d":817},{"r":"North Absheron","g":23,"d":873},{"r":"North Absheron","g":19.6,"d":1774},{"r":"North Absheron","g":21.3,"d":1830},{"r":"North Absheron","g":31.1,"d":1267},{"r":"North Absheron","g":20,"d":1000},{"r":"North Absheron","g":24.5,"d":1300},{"r":"North Absheron","g":27,"d":1400},{"r":"North Absheron","g":29.5,"d":800},{"r":"North Absheron","g":21.5,"d":3200},{"r":"North Absheron","g":19.2,"d":2850},{"r":"North Absheron","g":26.2,"d":2250},{"r":"North Absheron","g":22,"d":2700},
{"r":"Offshore SCB","g":18.2,"d":4083},{"r":"Offshore SCB","g":17.7,"d":4251},{"r":"Offshore SCB","g":17.7,"d":4674},{"r":"Offshore SCB","g":17.4,"d":5152},{"r":"Offshore SCB","g":20.7,"d":4392},{"r":"Offshore SCB","g":17.7,"d":6700},{"r":"Offshore SCB","g":14,"d":5490},{"r":"Offshore SCB","g":16,"d":5546},{"r":"Offshore SCB","g":16.5,"d":3550},{"r":"Offshore SCB","g":17,"d":3800},{"r":"Offshore SCB","g":21.6,"d":985},{"r":"Offshore SCB","g":16.2,"d":5050},{"r":"Offshore SCB","g":15.8,"d":4700},
{"r":"Upper Kura","g":28.6,"d":648},{"r":"Upper Kura","g":29.7,"d":704},{"r":"Upper Kura","g":26.1,"d":1154},{"r":"Upper Kura","g":19.6,"d":1661},{"r":"Upper Kura","g":24.1,"d":1492},{"r":"Upper Kura","g":29.2,"d":1605},{"r":"Upper Kura","g":28,"d":1999},{"r":"Upper Kura","g":35.1,"d":1942},{"r":"Upper Kura","g":25.2,"d":2280},{"r":"Upper Kura","g":27.5,"d":2449},{"r":"Upper Kura","g":29.7,"d":2421},{"r":"Upper Kura","g":32.5,"d":2280},{"r":"Upper Kura","g":40.4,"d":2477},{"r":"Upper Kura","g":46.3,"d":2477},{"r":"Upper Kura","g":51.6,"d":817},{"r":"Upper Kura","g":36.7,"d":2703},{"r":"Upper Kura","g":26.1,"d":2731},{"r":"Upper Kura","g":17.4,"d":3660},{"r":"Upper Kura","g":17.1,"d":3914},{"r":"Upper Kura","g":21.9,"d":4139},{"r":"Upper Kura","g":22.7,"d":4251},{"r":"Upper Kura","g":24.7,"d":3801},{"r":"Upper Kura","g":24.7,"d":4280},{"r":"Upper Kura","g":25.8,"d":4280},{"r":"Upper Kura","g":26.6,"d":4251},{"r":"Upper Kura","g":24.7,"d":4589},{"r":"Upper Kura","g":22.4,"d":5265},{"r":"Upper Kura","g":24.1,"d":5293},{"r":"Upper Kura","g":24.1,"d":5462},{"r":"Upper Kura","g":26.1,"d":5321},{"r":"Upper Kura","g":17.4,"d":5462},{"r":"Upper Kura","g":16.5,"d":5743},{"r":"Upper Kura","g":27,"d":3463},{"r":"Upper Kura","g":28.6,"d":3294},{"r":"Upper Kura","g":25,"d":1000},{"r":"Upper Kura","g":27.5,"d":1850},{"r":"Upper Kura","g":23.5,"d":2050},{"r":"Upper Kura","g":26.5,"d":3000},{"r":"Upper Kura","g":24,"d":3100},{"r":"Upper Kura","g":28,"d":2650},{"r":"Upper Kura","g":30.5,"d":2600},{"r":"Upper Kura","g":21,"d":1300},{"r":"Upper Kura","g":33,"d":1600}
]
},
"hconcat":[
{
"width":549,"height":420,
"layer":[
{"data":{"name":"one"},"mark":{"type":"rect","filled":false,"color":"#111","strokeWidth":4},
 "encoding":{"x":{"datum":-17.2,"type":"quantitative","scale":{"domain":[7.3,191.2],"nice":false,"zero":false},
   "axis":{"title":"Temperature","titleX":216.6,"titlePadding":6,"values":[10,20,30,40,50,60,70,80,90,100,110,120,130,140,150,160,170],"labelExpr":"datum.value % 20 == 10 && datum.value <= 150 ? datum.label : ''","labelPadding":5}},
  "x2":{"datum":384.2},
  "y":{"datum":-776,"type":"quantitative","scale":{"domain":[-290,6820],"reverse":true,"nice":false,"zero":false},
   "axis":{"title":"Depth BML, m","titleX":-56,"titleY":234,"titleBaseline":"middle","values":[0,500,1000,1500,2000,2500,3000,3500,4000,4500,5000,5500,6000,6500],"format":"d","labelExpr":"datum.value % 1000 == 0 ? datum.label : ''","labelPadding":3}},
  "y2":{"datum":7972}}},
{"data":{"values":[{"zone":"a","lo":90,"hi":120},{"zone":"b","lo":120,"hi":150},{"zone":"c","lo":150,"hi":169}]},
 "mark":{"type":"rect","opacity":1},
 "encoding":{"x":{"field":"lo","type":"quantitative"},"x2":{"field":"hi"},"y":{"datum":0,"type":"quantitative"},"y2":{"datum":6820},
  "fill":{"field":"zone","type":"nominal","scale":{"domain":["a","b","c"],"range":["#f8f09e","#d9e8cf","#f3a1a1"]},"legend":null}}},
{"data":{"name":"one"},"mark":{"type":"rule","color":"#8593c6","strokeWidth":1.5},"encoding":{"x":{"datum":7.3,"type":"quantitative"},"x2":{"datum":171},"y":{"datum":0,"type":"quantitative"}}},
{"data":{"name":"one"},"mark":{"type":"rule","color":"#6f6f6f","strokeWidth":1.2},"encoding":{"x":{"datum":7.3,"type":"quantitative"},"x2":{"datum":171},"y":{"datum":2500,"type":"quantitative"}}},
{"data":{"name":"one"},"mark":{"type":"rule","color":"#777","strokeWidth":1.1},"encoding":{"x":{"datum":7.3,"type":"quantitative"},"x2":{"datum":171},"y":{"datum":4000,"type":"quantitative"}}},
{"data":{"name":"one"},"mark":{"type":"rule","color":"#333","strokeWidth":1.3},"encoding":{"x":{"datum":7.3,"type":"quantitative"},"x2":{"datum":171},"y":{"datum":6000,"type":"quantitative"}}},
{"data":{"name":"left"},
 "mark":{"type":"point","shape":"circle","filled":true,"size":85,"opacity":0.92,"stroke":"#3a3a3a","strokeWidth":0.4,"strokeOpacity":0.5},
 "encoding":{"x":{"field":"t","type":"quantitative"},"y":{"field":"d","type":"quantitative"},
  "color":{"field":"r","type":"nominal","scale":{"domain":["Absheron","Gobustan","Lower Kura","Middle Kura","Nearshore Absheron","North Absheron","Offshore SCB","Upper Kura"],"range":["#7cc59a","#1b8a4c","#f0cf3a","#f5962a","#bfe0f5","#8f9694","#176b9c","#e8453f"]},"legend":{"title":null}}}},
{"data":{"name":"lines"},
 "mark":{"type":"line","color":"#111","strokeWidth":1.6},
 "encoding":{"x":{"field":"t","type":"quantitative"},"y":{"field":"d","type":"quantitative"},"detail":{"field":"line"},"order":{"field":"d"}}},
{"data":{"name":"one"},"mark":{"type":"text","text":"Absheron=35°C/km","angle":35,"font":"Liberation Sans","fontWeight":"bold","fontSize":15,"color":"#e8302e","align":"center","baseline":"middle"},
 "encoding":{"x":{"datum":56.5,"type":"quantitative"},"y":{"datum":730,"type":"quantitative"}}},
{"data":{"name":"one"},"mark":{"type":"text","text":"Upper Kura =26°C/km","angle":38,"font":"Liberation Sans","fontWeight":"bold","fontSize":15,"color":"#e03a3a","align":"center","baseline":"middle"},
 "encoding":{"x":{"datum":145.7,"type":"quantitative"},"y":{"datum":5045,"type":"quantitative"}}},
{"data":{"name":"one"},"mark":{"type":"text","text":"Lower Kura=21°C/km","angle":45,"font":"Liberation Sans","fontWeight":"bold","fontSize":15,"color":"#e8552f","align":"center","baseline":"middle"},
 "encoding":{"x":{"datum":129.9,"type":"quantitative"},"y":{"datum":5908,"type":"quantitative"}}},
{"data":{"name":"one"},"mark":{"type":"text","text":"SCB=15°C/km","angle":50,"font":"Liberation Sans","fontWeight":"bold","fontSize":15,"color":"#e23a3a","align":"center","baseline":"middle"},
 "encoding":{"x":{"datum":79.7,"type":"quantitative"},"y":{"datum":5011,"type":"quantitative"}}}
]
},
{
"width":446,"height":420,
"layer":[
{"data":{"name":"one"},"mark":{"type":"rule","color":"#8593c6","strokeWidth":1.5},"encoding":{"y":{"datum":0,"type":"quantitative","scale":{"domain":[-290,6820],"reverse":true,"nice":false,"zero":false},
   "axis":{"title":null,"labels":false,"values":[0,500,1000,1500,2000,2500,3000,3500,4000,4500,5000,5500,6000,6500],"domainColor":"#cdd4e4","domainWidth":1,"tickColor":"#c3cade","tickSize":4}}}},
{"data":{"name":"one"},"mark":{"type":"rule","color":"#6f6f6f","strokeWidth":1.2},"encoding":{"y":{"datum":2500,"type":"quantitative"}}},
{"data":{"name":"one"},"mark":{"type":"rule","color":"#777","strokeWidth":1.1},"encoding":{"y":{"datum":4000,"type":"quantitative"}}},
{"data":{"name":"one"},"mark":{"type":"rule","color":"#333","strokeWidth":1.3},"encoding":{"y":{"datum":6000,"type":"quantitative"}}},
{"data":{"name":"one"},"mark":{"type":"rule","color":"#a9b5d3","strokeWidth":1.3},"encoding":{"x":{"datum":62.3,"type":"quantitative","scale":{"domain":[-1.7,62.3],"nice":false,"zero":false},
   "axis":{"title":"Geothermal Gradient","titlePadding":6,"values":[0,5,10,15,20,25,30,35,40,45,50,55,60],"labelExpr":"datum.value % 10 == 0 ? datum.label : ''","labelPadding":5}}}},
{"data":{"name":"right"},
 "mark":{"type":"point","shape":"circle","filled":true,"size":85,"opacity":0.92,"stroke":"#3a3a3a","strokeWidth":0.4,"strokeOpacity":0.5},
 "encoding":{"x":{"field":"g","type":"quantitative"},"y":{"field":"d","type":"quantitative"},
  "color":{"field":"r","type":"nominal"}}},
{"data":{"values":[{"g":15,"top":2450},{"g":20,"top":2450},{"g":26.2,"top":1690}]},
 "mark":{"type":"rule","color":"#111","strokeWidth":2,"strokeDash":[8,4]},
 "encoding":{"x":{"field":"g","type":"quantitative"},"y":{"field":"top","type":"quantitative"},"y2":{"datum":6820}}},
{"data":{"name":"one"},"mark":{"type":"rule","color":"#111","strokeWidth":1.6,"strokeDash":[6,3]},
 "encoding":{"x":{"datum":33.8,"type":"quantitative"},"y":{"datum":80,"type":"quantitative"},"y2":{"datum":2290}}},
{"data":{"name":"one"},"mark":{"type":"point","shape":"triangle-down","filled":true,"size":35,"color":"#111","opacity":1},
 "encoding":{"x":{"datum":33.8,"type":"quantitative"},"y":{"datum":2300,"type":"quantitative"}}},
{"data":{"name":"one"},"mark":{"type":"rule","color":"#333","strokeWidth":1},
 "encoding":{"x":{"datum":33.9,"type":"quantitative"},"x2":{"datum":36.7},"y":{"datum":2253,"type":"quantitative"}}},
{"data":{"name":"one"},"mark":{"type":"text","text":"Dalimammadli","font":"Liberation Serif","fontWeight":"bold","fontSize":15.5,"color":"#111","align":"left","baseline":"middle"},
 "encoding":{"x":{"datum":37.0,"type":"quantitative"},"y":{"datum":2253,"type":"quantitative"}}}
]
}
]
}
